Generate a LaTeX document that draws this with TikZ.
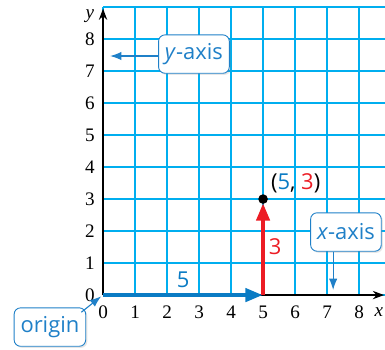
\documentclass[tikz,border=0pt]{standalone}
\usepackage{fontspec}
\newfontfamily\labelfont{Open Sans}
\newfontfamily\tickfont{Liberation Serif}
\usetikzlibrary{arrows.meta,shadows}
\definecolor{gridcyan}{HTML}{00AEEF}
\definecolor{axisblue}{HTML}{0A7BC4}
\definecolor{callblue}{HTML}{1F80C8}
\definecolor{stepred}{HTML}{EC1C24}
\tikzset{ticklabel/.style={font=\tickfont\fontsize{17}{20}\selectfont},axisline/.style={draw=black,line width=1.4pt,-{Stealth[length=3.5mm,width=2.6mm]}},callout/.style={draw=callblue,rounded corners=2mm,fill=white,thick,inner sep=2mm,minimum height=1.2cm,text=callblue,font=\labelfont\fontsize{19.5}{22}\selectfont,drop shadow={opacity=.2,shadow xshift=.5mm,shadow yshift=-.5mm}},pointer/.style={draw=callblue,-{Latex[length=3.5mm,width=2.6mm]},line width=1pt},move/.style={line width=1.5mm,-{Triangle[length=5.5mm,width=4mm]}},steplabel/.style={font=\labelfont\fontsize{19.5}{22}\selectfont}}

\begin{document}
\begin{tikzpicture}
\useasboundingbox (-3.22,-1.69) rectangle (8.81,9.22);
\draw[gridcyan,line width=1.5pt] (0,0) grid (8.81,9);
\coordinate (O) at (0,0);
\coordinate (A) at (5,0);
\coordinate (P) at (5,3);
\draw[axisline] (O) -- (8.78,0);
\draw[axisline] (O) -- (0,8.95);
\foreach \n in {0,...,8}{\node[ticklabel] (x\n) at (\n,-.53) {\n};
\node[ticklabel] (y\n) at (-.41,\n) {\n};}
\node[ticklabel] (xl) at (8.62,-.53) {\textit{x}};
\node[ticklabel] (yl) at (-.41,8.72) {\textit{y}};
\draw[move,axisblue] (O) -- (A);
\draw[move,stepred] (A) -- ([yshift=-1.2mm]P);
\fill (P) circle (1.5mm);
\node[steplabel,text=axisblue] (n5) at (2.5,.47) {5};
\node[steplabel,text=stepred] (n3) at (5.38,1.5) {3};
\node[steplabel] (pt) at (6.02,3.5) {(\textcolor{axisblue}{5}, \textcolor{stepred}{3})};
\node[callout] (yax) at (2.84,7.53) {\textit{y}-axis};
\coordinate (ya) at (.22,7.47);
\draw[pointer] (yax.west|-ya) -- (ya);
\node[callout] (xax) at (7.59,1.97) {\textit{x}-axis};
\coordinate (xa) at (7.19,.16);
\draw[pointer] (xax.south-|xa) -- (xa);
\node[callout] (org) at (-1.66,-1.0) {origin};
\coordinate (og) at (-.06,-.04);
\draw[pointer] ([shift={(-1.5mm,-1.5mm)}]org.north east) -- (og);
\end{tikzpicture}
\end{document}
